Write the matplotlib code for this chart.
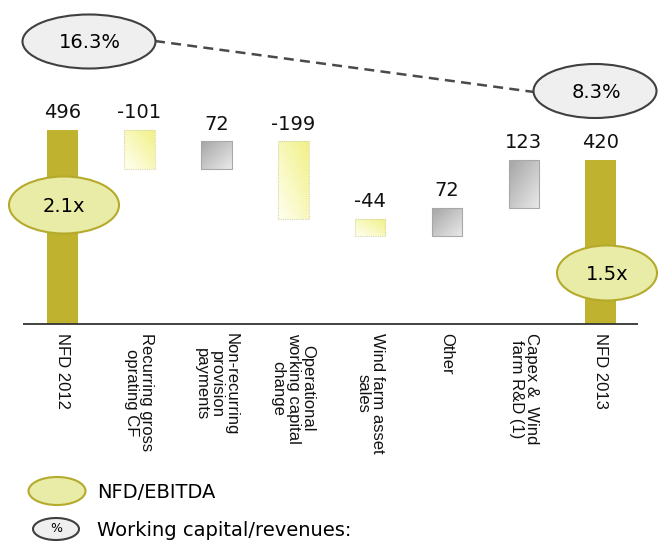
import numpy as np
import matplotlib
matplotlib.use("Agg")
import matplotlib.pyplot as plt
from matplotlib.patches import Ellipse
from matplotlib.colors import LinearSegmentedColormap

# data
categories = ["NFD 2012", "Recurring gross\noprating CF", "Non-recurring\nprovision\npayments",
              "Operational\nworking capital\nchange", "Wind farm asset\nsales", "Other",
              "Capex &  Wind\nfarm R&D (1)", "NFD 2013"]
values = [496, -101, 72, -199, -44, 72, 123, 420]
is_total = [True, False, False, False, False, False, False, True]
ratio_labels = ["2.1x", "1.5x"]        # NFD/EBITDA
wc_labels = ["16.3%", "8.3%"]          # Working capital/revenues

# waterfall bottoms / heights
bottoms = []
heights = []
running = 0
for v, tot in zip(values, is_total):
    if tot:
        bottoms.append(0)
        heights.append(v)
        running = v
    else:
        bottoms.append(min(running, running + v))
        heights.append(abs(v))
        running += v

fig = plt.figure(figsize=(6.58, 5.54), dpi=100)
ax = fig.add_axes([0, 0, 1, 1])
ax.axis("off")

x = np.arange(len(values))
gold = "#BFB22E"
bars = ax.bar(x, heights, bottom=bottoms, width=0.4, color="none", edgecolor="none", zorder=2)

xlim = (-0.813, 7.744)
ylim = (-591, 829.5)

yellow_cmap = LinearSegmentedColormap.from_list("yel", ["#FFFFF2", "#F1F186"])
gray_cmap = LinearSegmentedColormap.from_list("gry", ["#E9E9E9", "#A5A5A5"])
n = 32
gy, gx = np.mgrid[0:1:n * 1j, 0:1:n * 1j]

for i, b in enumerate(bars):
    bx, by, bw, bh = b.get_x(), b.get_y(), b.get_width(), b.get_height()
    if is_total[i]:
        b.set_facecolor(gold)
        continue
    if values[i] < 0:
        grad, cmap, ec = (gx + gy) / 2, yellow_cmap, "#D6D6A8"
    else:
        grad, cmap, ec = (gy + (1 - gx)) / 2, gray_cmap, "#A8A8A8"
    im = ax.imshow(grad, extent=[bx, bx + bw, by, by + bh], origin="lower",
                   cmap=cmap, aspect="auto", zorder=2, interpolation="bilinear")
    im.set_clip_path(b)
    b.set_edgecolor(ec)
    b.set_linewidth(0.8)
    b.set_linestyle((0, (1, 1)) if values[i] < 0 else "-")
    b.set_zorder(3)

ax.set_xlim(*xlim)
ax.set_ylim(*ylim)

# baseline
ax.hlines(0, -0.514, 7.484, color="#333333", lw=1.3, zorder=4)

# value labels
for i, v in enumerate(values):
    top = bottoms[i] + heights[i]
    ax.annotate(f"{v}", xy=(i, top), xytext=(0, 5.5), textcoords="offset points",
                ha="center", va="bottom", fontsize=14, family="DejaVu Sans", color="#111111")

# category labels
for i, c in enumerate(categories):
    ax.annotate(c, xy=(i, 0), xytext=(0, -7), textcoords="offset points",
                rotation=270, ha="center", va="top", fontsize=12, family="Liberation Sans",
                linespacing=1.0, multialignment="center", color="#111111")

# overlay in pixel coords for bubbles and legend
ov = fig.add_axes([0, 0, 1, 1])
ov.set_xlim(0, 658)
ov.set_ylim(554, 0)
ov.axis("off")
ov.patch.set_alpha(0)

yfill, yedge = "#E8ECA6", "#B5AA2C"
gfill, gedge = "#EFEFEF", "#404040"

# working capital bubbles + dashed connector
ov.plot([155, 534], [41, 92], ls=(0, (4, 2.5)), color="#4A4A4A", lw=1.8, zorder=1)
for (cx, cy, w, h), lab in zip([(89, 41.5, 133, 54), (595, 91, 123, 54)], wc_labels):
    ov.add_patch(Ellipse((cx, cy), w, h, facecolor=gfill, edgecolor=gedge, lw=1.5, zorder=2))
    ov.text(cx + 1, cy + 1, lab, ha="center", va="center", fontsize=14, family="DejaVu Sans", zorder=3)

# NFD/EBITDA bubbles
for (cx, cy, w, h), lab in zip([(64, 205, 110, 57), (607, 273, 100, 55)], ratio_labels):
    ov.add_patch(Ellipse((cx, cy), w, h, facecolor=yfill, edgecolor=yedge, lw=1.5, zorder=2))
    ov.text(cx, cy + 1, lab, ha="center", va="center", fontsize=14, family="DejaVu Sans", zorder=3)

# legend
ov.add_patch(Ellipse((57, 491), 57, 28, facecolor=yfill, edgecolor=yedge, lw=1.5))
ov.text(97, 492, "NFD/EBITDA", ha="left", va="center", fontsize=14, family="DejaVu Sans")
ov.add_patch(Ellipse((56, 529), 46, 22, facecolor=gfill, edgecolor=gedge, lw=1.5))
ov.text(56, 529, "%", ha="center", va="center", fontsize=9, family="DejaVu Sans")
ov.text(97, 530, "Working capital/revenues:", ha="left", va="center", fontsize=14, family="DejaVu Sans")

plt.savefig("out.png", dpi=100)
